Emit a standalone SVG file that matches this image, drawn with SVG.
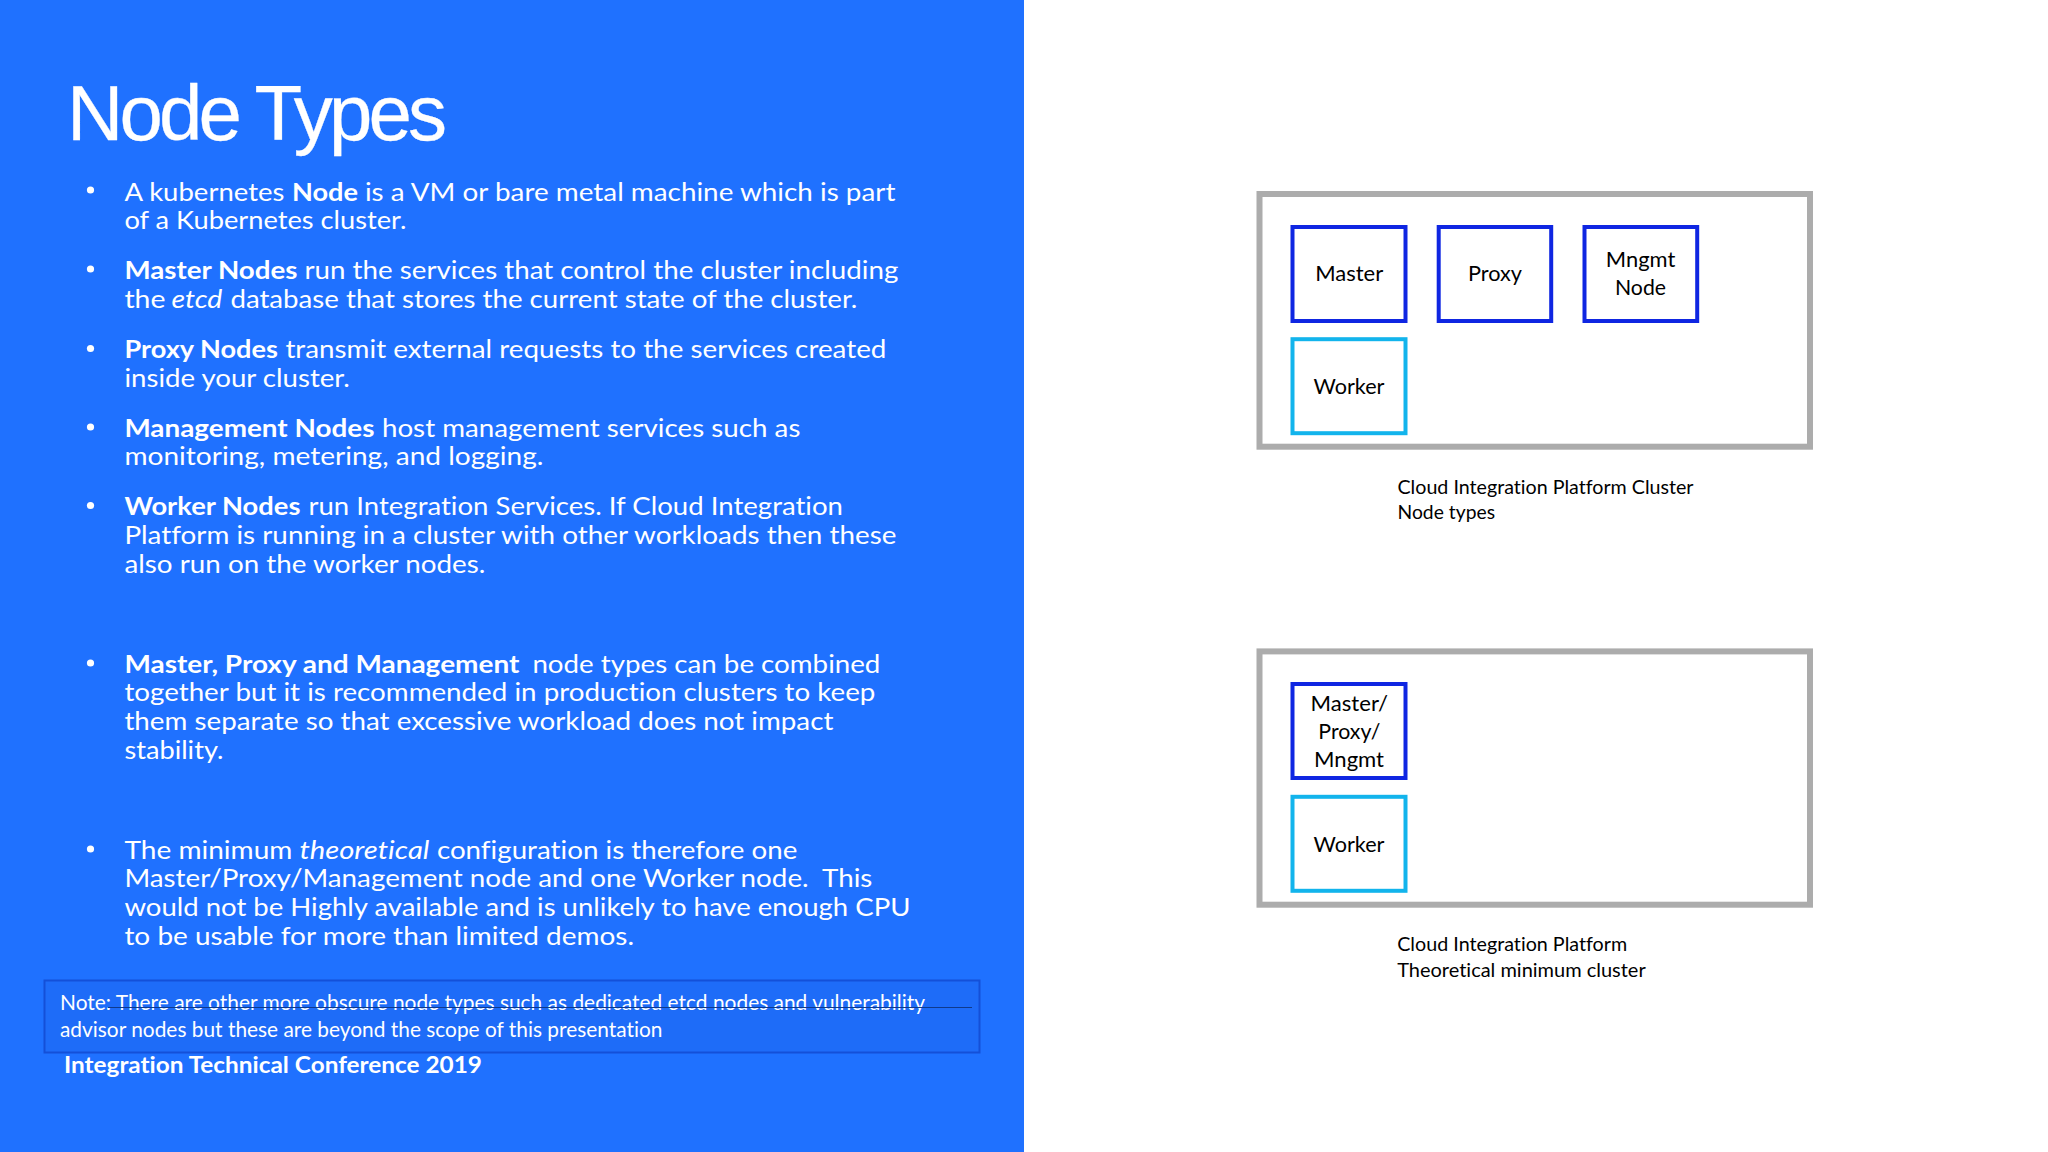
<svg xmlns="http://www.w3.org/2000/svg" width="2048" height="1152" viewBox="0 0 2048 1152">
<style>
text{font-family:Lato,"Open Sans",sans-serif;font-variant-ligatures:none}
.b{fill:#fff;font-size:25.3px}
.s{font-weight:700}
.i{font-style:italic}
.bu{fill:#fff}
.n{fill:#fff;font-size:20.5px}
.f{fill:#fff;font-size:23px;font-weight:700}
.t{fill:#fff;font-family:"Liberation Sans",Arial,sans-serif;font-size:78px}
.cluster{fill:#fff;stroke:#acacac;stroke-width:6}
.ctrl{fill:#fff;stroke:#0f26e2;stroke-width:4}
.wrk{fill:#fff;stroke:#12b4ec;stroke-width:4}
.l{fill:#000;font-size:22px;text-anchor:middle}
.c{fill:#000;font-size:19px}
</style>
<rect width="2048" height="1152" fill="#fff"/>
<rect width="1024" height="1152" fill="#1f71ff"/>
<text class="t" x="67" y="140" textLength="380" lengthAdjust="spacing" stroke="#fff" stroke-width="0.3">Node Types</text>
<g id="bullets">
<circle class="bu" cx="90.5" cy="190" r="3.6"/><circle class="bu" cx="90.5" cy="269" r="3.6"/><circle class="bu" cx="90.5" cy="348.5" r="3.6"/><circle class="bu" cx="90.5" cy="427" r="3.6"/><circle class="bu" cx="90.5" cy="505.5" r="3.6"/><circle class="bu" cx="90.5" cy="663" r="3.6"/><circle class="bu" cx="90.5" cy="849" r="3.6"/>
<g transform="translate(0.4,1.2)">
<text class="b" y="199.6"><tspan x="124" textLength="160" lengthAdjust="spacingAndGlyphs">A kubernetes</tspan> <tspan class="s" x="291.5" textLength="66" lengthAdjust="spacingAndGlyphs">Node</tspan> <tspan x="364.5" textLength="530.5" lengthAdjust="spacingAndGlyphs">is a VM or bare metal machine which is part</tspan></text>
<text class="b" y="228.2" x="124" textLength="282" lengthAdjust="spacingAndGlyphs">of a Kubernetes cluster.</text>
<text class="b" y="278.2"><tspan class="s" x="124" textLength="173" lengthAdjust="spacingAndGlyphs">Master Nodes</tspan> <tspan x="304" textLength="594" lengthAdjust="spacingAndGlyphs">run the services that control the cluster including</tspan></text>
<text class="b" y="306.8"><tspan x="124" textLength="41" lengthAdjust="spacingAndGlyphs">the</tspan> <tspan class="i" x="171" textLength="51" lengthAdjust="spacingAndGlyphs">etcd</tspan> <tspan x="230" textLength="627" lengthAdjust="spacingAndGlyphs">database that stores the current state of the cluster.</tspan></text>
<text class="b" y="356.8"><tspan class="s" x="124" textLength="153.5" lengthAdjust="spacingAndGlyphs">Proxy Nodes</tspan> <tspan x="285" textLength="601" lengthAdjust="spacingAndGlyphs">transmit external requests to the services created</tspan></text>
<text class="b" y="385.4" x="124" textLength="225.4" lengthAdjust="spacingAndGlyphs">inside your cluster.</text>
<text class="b" y="435.4"><tspan class="s" x="124" textLength="250" lengthAdjust="spacingAndGlyphs">Management Nodes</tspan> <tspan x="381.5" textLength="418.5" lengthAdjust="spacingAndGlyphs">host management services such as</tspan></text>
<text class="b" y="464" x="124" textLength="419" lengthAdjust="spacingAndGlyphs">monitoring, metering, and logging.</text>
<text class="b" y="514"><tspan class="s" x="124" textLength="176" lengthAdjust="spacingAndGlyphs">Worker Nodes</tspan> <tspan x="308" textLength="534.6" lengthAdjust="spacingAndGlyphs">run Integration Services. If Cloud Integration</tspan></text>
<text class="b" y="542.9" x="124" textLength="772" lengthAdjust="spacingAndGlyphs">Platform is running in a cluster with other workloads then these</text>
<text class="b" y="571.4" x="124" textLength="361" lengthAdjust="spacingAndGlyphs">also run on the worker nodes.</text>
</g>
<g transform="translate(0.4,0.5)">
<text class="b" y="672"><tspan class="s" x="124" textLength="395" lengthAdjust="spacingAndGlyphs">Master, Proxy and Management</tspan> <tspan x="532" textLength="348" lengthAdjust="spacingAndGlyphs">node types can be combined</tspan></text>
<text class="b" y="700.7" x="124" textLength="751" lengthAdjust="spacingAndGlyphs">together but it is recommended in production clusters to keep</text>
<text class="b" y="729" x="124" textLength="709" lengthAdjust="spacingAndGlyphs">them separate so that excessive workload does not impact</text>
<text class="b" y="758" x="124" textLength="99" lengthAdjust="spacingAndGlyphs">stability.</text>
</g>
<g transform="translate(0.4,0)">
<text class="b" y="858.8"><tspan x="124" textLength="168" lengthAdjust="spacingAndGlyphs">The minimum</tspan> <tspan class="i" x="299" textLength="130" lengthAdjust="spacingAndGlyphs">theoretical</tspan> <tspan x="436.5" textLength="360.5" lengthAdjust="spacingAndGlyphs">configuration is therefore one</tspan></text>
<text class="b" y="887.3" x="124" textLength="748" lengthAdjust="spacingAndGlyphs" xml:space="preserve">Master/Proxy/Management node and one Worker node.  This</text>
<text class="b" y="916.2" x="124" textLength="786" lengthAdjust="spacingAndGlyphs">would not be Highly available and is unlikely to have enough CPU</text>
<text class="b" y="945" x="124" textLength="509.6" lengthAdjust="spacingAndGlyphs">to be usable for more than limited demos.</text>
</g>
</g>
<g id="note">
<rect x="44.5" y="980.5" width="935" height="72" fill="#1e6cf8" stroke="#1450d8" stroke-width="2"/>
<text class="n" y="1009.5" x="60" textLength="865" lengthAdjust="spacingAndGlyphs">Note: There are other more obscure node types such as dedicated etcd nodes and vulnerability</text>
<text class="n" y="1036.6" x="60" textLength="602.5" lengthAdjust="spacingAndGlyphs">advisor nodes but these are beyond the scope of this presentation</text>
</g>
<g id="connectors"><line x1="108" y1="1007.5" x2="972" y2="1007.5" stroke="#0f3a8c" stroke-width="1"/></g>
<text class="f" x="64" y="1073" textLength="418" lengthAdjust="spacingAndGlyphs">Integration Technical Conference 2019</text>
<g id="cluster-types">
<rect class="cluster" x="1259.5" y="194" width="550.5" height="252.7"/>
<text class="c" x="1397.5" y="493.6" textLength="296" lengthAdjust="spacingAndGlyphs">Cloud Integration Platform Cluster</text>
<text class="c" x="1397.5" y="519.4" textLength="97.5" lengthAdjust="spacingAndGlyphs">Node types</text>
</g>
<g id="node-master"><rect class="ctrl" x="1292.5" y="227" width="113" height="94"/><text class="l" x="1349.2" y="281" textLength="68" lengthAdjust="spacingAndGlyphs">Master</text></g>
<g id="node-proxy"><rect class="ctrl" x="1438.7" y="227" width="112.5" height="94"/><text class="l" x="1495" y="281" textLength="54" lengthAdjust="spacingAndGlyphs">Proxy</text></g>
<g id="node-mngmt"><rect class="ctrl" x="1584.5" y="227" width="112.7" height="94"/><text class="l" x="1640.5" y="267.2" textLength="69.5" lengthAdjust="spacingAndGlyphs">Mngmt</text><text class="l" x="1640.5" y="295" textLength="51" lengthAdjust="spacingAndGlyphs">Node</text></g>
<g id="node-worker"><rect class="wrk" x="1292.5" y="339.2" width="113" height="94"/><text class="l" x="1349" y="393.8" textLength="71" lengthAdjust="spacingAndGlyphs">Worker</text></g>
<g id="cluster-minimum">
<rect class="cluster" x="1259.5" y="651.4" width="550.5" height="253.3"/>
<text class="c" x="1397.2" y="951.4" textLength="230" lengthAdjust="spacingAndGlyphs">Cloud Integration Platform</text>
<text class="c" x="1397.2" y="977.2" textLength="248.5" lengthAdjust="spacingAndGlyphs">Theoretical minimum cluster</text>
</g>
<g id="node-combined"><rect class="ctrl" x="1292.5" y="684" width="113" height="94"/><text class="l" x="1349.3" y="711.4" textLength="77.5" lengthAdjust="spacingAndGlyphs">Master/</text><text class="l" x="1349.3" y="739" textLength="62" lengthAdjust="spacingAndGlyphs">Proxy/</text><text class="l" x="1349" y="767" textLength="70" lengthAdjust="spacingAndGlyphs">Mngmt</text></g>
<g id="node-worker-min"><rect class="wrk" x="1292.5" y="796.8" width="113" height="94"/><text class="l" x="1349" y="851.8" textLength="71" lengthAdjust="spacingAndGlyphs">Worker</text></g>
</svg>
